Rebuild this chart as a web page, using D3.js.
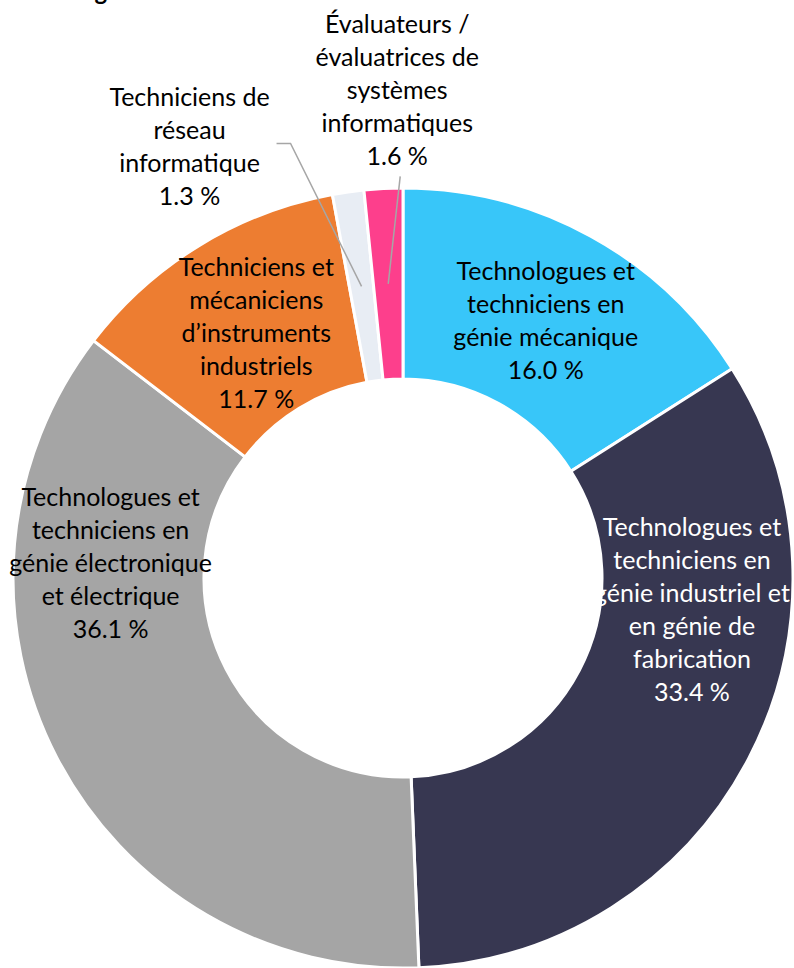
<!DOCTYPE html>
<html lang="fr">
<head>
    <meta charset="utf-8">
    <title>Répartition des technologues et techniciens</title>
    <script src="https://d3js.org/d3.v7.min.js"></script>
    <style>
        html, body {
            margin: 0;
            padding: 0;
            background: #fff;
        }
        text {
            font-family: Lato, "Noto Sans", sans-serif;
            font-size: 25px;
        }
        .leader {
            fill: none;
            stroke: #a6a6a6;
            stroke-width: 1.5px;
        }
    </style>
</head>
<body>
<script type="text/javascript">

    // data
    var categories = [
        "Technologues et techniciens en génie mécanique",
        "Technologues et techniciens en génie industriel et en génie de fabrication",
        "Technologues et techniciens en génie électronique et électrique",
        "Techniciens et mécaniciens d’instruments industriels",
        "Techniciens de réseau informatique",
        "Évaluateurs / évaluatrices de systèmes informatiques"
    ];
    var shares = [16.0, 33.4, 36.1, 11.7, 1.3, 1.6];
    var valueLabels = ["16.0 %", "33.4 %", "36.1 %", "11.7 %", "1.3 %", "1.6 %"];
    // label text broken into lines the way the chart shows them
    var labelLines = [
        ["Technologues et", "techniciens en", "génie mécanique"],
        ["Technologues et", "techniciens en", "génie industriel et", "en génie de", "fabrication"],
        ["Technologues et", "techniciens en", "génie électronique", "et électrique"],
        ["Techniciens et", "mécaniciens", "d’instruments", "industriels"],
        ["Techniciens de", "réseau", "informatique"],
        ["Évaluateurs /", "évaluatrices de", "systèmes", "informatiques"]
    ];

    // styling / layout
    var colors = ["#38c6f9", "#373751", "#a5a5a5", "#ed7d31", "#e8edf4", "#fd3f8c"];
    var textColors = ["#000", "#fff", "#000", "#000", "#000", "#000"];
    // nudge of each label from the slice centroid (dx, dy)
    var labelNudge = [[1, 1], [28, -105], [-31, -150], [7, 6], [-172, -140], [9, -194]];
    var outside = [false, false, false, false, true, true];

    var w = 794, h = 968;
    var cx = 403, cy = 578;
    var outerR = 390, innerR = 199;
    var lineH = 33;

    var svg = d3.select("body")
        .append("svg")
        .attr("width", w)
        .attr("height", h);

    // title, cut off at the very top of the picture
    svg.append("text")
        .attr("x", -2)
        .attr("y", 0)
        .attr("font-weight", "bold")
        .style("font-size", "24px")
        .text("Technologues et techniciens en");

    var pie = d3.pie().sort(null).value(function(d) { return d; });
    var arc = d3.arc().innerRadius(innerR).outerRadius(outerR);
    var arcs = pie(shares);

    var g = svg.append("g")
        .attr("transform", "translate(" + cx + "," + cy + ")");

    g.selectAll("path.slice")
        .data(arcs)
        .enter()
        .append("path")
        .attr("class", "slice")
        .attr("d", arc)
        .attr("fill", function(d, i) { return colors[i]; })
        .attr("stroke", "#fff")
        .attr("stroke-width", 3);

    // label anchor = centroid + nudge
    function labelPos(d, i) {
        var c = arc.centroid(d);
        return [c[0] + labelNudge[i][0], c[1] + labelNudge[i][1]];
    }

    // leader lines for the two thin slices
    arcs.forEach(function(d, i) {
        if (!outside[i]) return;
        var c = arc.centroid(d);
        var p = labelPos(d, i);
        var n = labelLines[i].length + 1;
        var pts;
        if (i === 4) {
            var ey = p[1] - 3;
            pts = [c, [c[0] - 71, ey], [c[0] - 85, ey]];
        } else {
            var by = p[1] + (n * lineH) / 2 + 4;
            pts = [c, [p[0] + 3, by]];
        }
        g.append("path")
            .attr("class", "leader")
            .attr("d", d3.line()(pts));
    });

    var labels = g.selectAll("text.lbl")
        .data(arcs)
        .enter()
        .append("text")
        .attr("class", "lbl")
        .attr("text-anchor", "middle")
        .attr("fill", function(d, i) { return textColors[i]; })
        .attr("transform", function(d, i) {
            var p = labelPos(d, i);
            return "translate(" + p[0] + "," + p[1] + ")";
        });

    labels.each(function(d, i) {
        var lines = labelLines[i].concat([valueLabels[i]]);
        var top = -((lines.length - 1) * lineH) / 2;
        var t = d3.select(this);
        lines.forEach(function(s, k) {
            t.append("tspan")
                .attr("x", 0)
                .attr("y", top + k * lineH)
                .attr("dy", "0.35em")
                .text(s);
        });
    });

</script>
</body>
</html>
